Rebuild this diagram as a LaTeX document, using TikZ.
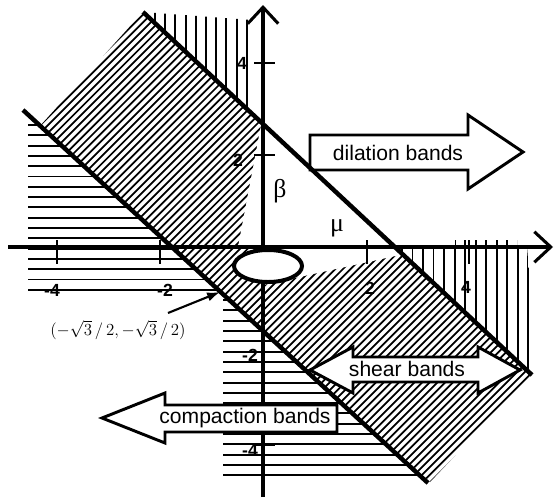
\documentclass[tikz,border=0pt]{standalone}
\usepackage{fontspec}
\setmainfont{Liberation Serif}
\setsansfont{Liberation Sans}
\usepackage{tikz}
\usetikzlibrary{arrows.meta}

\tikzset{
  bandline/.style={line width=3.8pt},
  axisline/.style={line width=2.6pt, -{Straight Barb[length=14pt,width=26pt]}},
  tickline/.style={line width=2pt},
  hatchline/.style={line width=1.7pt},
  diagline/.style={line width=1.5pt},
  blockarrow/.style={draw, fill=white, line width=2.5pt, line join=miter},
  bandtext/.style={font=\sffamily\fontsize{18}{20}\selectfont},
  ticklabel/.style={font=\sffamily\bfseries\fontsize{15}{17}\selectfont},
  greeklabel/.style={font=\fontsize{22}{24}\selectfont},
}

\begin{document}
\begin{tikzpicture}[x=0.03cm, y=-0.03cm]
    \useasboundingbox (0,0) rectangle (555,500);
    \coordinate (u1) at (143,12);
    \coordinate (u2) at (532,375);
    \coordinate (l1) at (23,110);
    \coordinate (l2) at (428,483);

    % shear region
    \begin{scope}
      \clip (u1) -- (u2) -- (430,482) -- (40,126) -- cycle;
      \foreach \x in {-350,-342.3,...,420}
        \draw[diagline] (\x,500) -- ++(500,-500);
    \end{scope}
    \fill[white] (262,120) -- (238,247) -- (395,247) -- cycle;
    \fill[white] (263,247) -- (263,285) -- (400,255) -- (400,247) -- cycle;

    % dilation region
    \begin{scope}
      \clip (u1) -- (252,20) -- (252,114) -- cycle;
      \foreach \x in {155,165.2,...,252}
        \draw[hatchline] (\x,0) -- (\x,130);
    \end{scope}
    \begin{scope}
      \clip (394,247) -- (455,247) -- (455,240) -- (517,240) -- (517,247)
        -- (527,247) -- (534,330) -- (534,378) -- cycle;
      \foreach \x in {402,412.5,...,534}
        \draw[hatchline] (\x,235) -- (\x,380);
    \end{scope}

    % compaction region
    \begin{scope}
      \clip (28,114.6) -- (28,297) -- (223,297) -- (223,477) -- (421.5,477) -- cycle;
      \foreach \y in {125,135.3,...,476}
        \draw[hatchline] (20,\y) -- (430,\y);
    \end{scope}

    % axes
    \draw[axisline] (8,247) -- (553,247);
    \draw[axisline] (263,497) -- (263,5);
    \foreach \x in {57,160,367,469}
      \draw[tickline] (\x,240) -- (\x,264);
    \foreach \y in {63,155,352,445}
      \draw[tickline] (254,\y) -- (275,\y);

    \draw[line width=3.4pt, fill=white] (268,266) ellipse [x radius=34, y radius=16];

    % band arrows
    \draw[blockarrow] (310,135) -- (468,135) -- (468,115) -- (523,152)
      -- (468,189) -- (468,170) -- (310,170) -- cycle;
    \node[bandtext] (dilation) at (398,153) {dilation bands};
    \draw[blockarrow] (310,370) -- (353,347) -- (353,357) -- (478,357) -- (478,347)
      -- (520,370) -- (478,393) -- (478,382) -- (353,382) -- (353,393) -- cycle;
    \node[bandtext] (shear) at (407,369) {shear bands};
    \draw[blockarrow] (337,405) -- (165,405) -- (165,393) -- (102,418)
      -- (165,443) -- (165,432) -- (337,432) -- cycle;
    \node[bandtext] (compaction) at (245,418) {compaction bands};

    \draw[bandline] (u1) -- (u2);
    \draw[bandline] (l1) -- (l2);

    % labels
    \node[ticklabel] at (52,290) {-4};
    \node[ticklabel] at (165,290) {-2};
    \node[ticklabel] at (370,288) {2};
    \node[ticklabel] at (466,287) {4};
    \node[ticklabel] at (242,63) {4};
    \node[ticklabel] at (238,160) {2};
    \node[ticklabel] at (250,355) {-2};
    \node[ticklabel] at (250,450) {-4};
    \node[greeklabel] (beta) at (280,191) {β};
    \node[greeklabel] (mu) at (337,228) {μ};

    \node[font=\fontsize{14}{16}\selectfont] (ptlabel) at (118,330) {$(-\sqrt{3}\,/\,2, -\sqrt{3}\,/\,2)$};
    \coordinate (pttail) at (168,313);
    \coordinate (pt) at (220,292);
    \draw[line width=1.8pt, -{Latex[length=11pt,width=8pt]}] (pttail) -- (pt);
\end{tikzpicture}
\end{document}
